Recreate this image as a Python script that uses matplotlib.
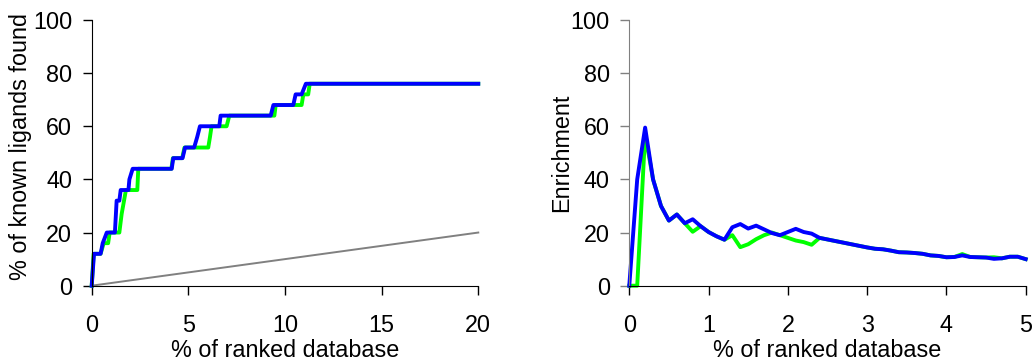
import matplotlib.pyplot as plt

plt.rcParams['font.family'] = ['Liberation Sans', 'DejaVu Sans']

# Left panel: % of known ligands found vs % of ranked database
blue_db = [0, 0.12, 0.46, 0.57, 0.78, 1.2, 1.29, 1.43, 1.5, 1.9, 1.95, 2.12,
           4.14, 4.22, 4.7, 4.83, 5.3, 5.46, 5.6, 6.6, 6.67, 9.26, 9.4,
           10.43, 10.55, 10.86, 11.08, 20]
blue_found = [0, 12, 12, 16, 20, 20, 32, 32, 36, 36, 40, 44,
              44, 48, 48, 52, 52, 56, 60, 60, 64, 64, 68,
              68, 72, 72, 76, 76]

green_db = [0, 0.1, 0.46, 0.62, 0.85, 0.93, 1.43, 1.55, 1.77, 2.36, 2.41,
            4.12, 4.2, 4.68, 4.8, 6.03, 6.12, 6.2, 6.98, 7.12, 9.45, 9.52,
            10.86, 10.95, 11.2, 11.28, 20]
green_found = [0, 12, 12, 16, 16, 20, 20, 27, 36, 36, 44,
               44, 48, 48, 52, 52, 56, 60, 60, 64, 64, 68,
               68, 72, 72, 76, 76]

random_db = [0, 20]
random_found = [0, 20]

# Right panel: enrichment vs % of ranked database
enr_db = [0.0, 0.1, 0.2, 0.3, 0.4, 0.5, 0.6, 0.7, 0.8, 0.9,
          1.0, 1.1, 1.2, 1.3, 1.4, 1.5, 1.6, 1.7, 1.8, 1.9,
          2.0, 2.1, 2.2, 2.3, 2.4, 2.5, 2.6, 2.7, 2.8, 2.9,
          3.0, 3.1, 3.2, 3.3, 3.4, 3.5, 3.6, 3.7, 3.8, 3.9,
          4.0, 4.1, 4.2, 4.3, 4.4, 4.5, 4.6, 4.7, 4.8, 4.9, 5.0]
blue_enr = [0, 40, 59.5, 40, 30, 24.5, 26.8, 23.5, 25, 22.4,
            20.2, 18.6, 17.3, 22, 23.2, 21.5, 22.6, 21.2, 19.8, 19,
            20.2, 21.4, 20.2, 19.6, 18.0, 17.4, 16.8, 16.2, 15.6, 15.0,
            14.4, 13.9, 13.7, 13.2, 12.6, 12.5, 12.3, 12.0, 11.4, 11.2,
            10.7, 10.8, 11.4, 10.8, 10.7, 10.6, 10.1, 10.3, 10.9, 10.9, 10.0]
green_enr = [0, 0, 57, 40, 30, 24.5, 26.8, 23.5, 20.3, 22.4,
             20.2, 18.6, 17.3, 19, 14.5, 15.6, 17.5, 19, 20, 19,
             18, 17, 16.4, 15.4, 18.0, 17.4, 16.8, 16.2, 15.6, 15.0,
             14.4, 13.9, 13.7, 13.2, 12.6, 12.5, 12.3, 12.0, 11.4, 11.2,
             10.7, 10.8, 11.9, 10.8, 10.7, 10.6, 10.7, 10.3, 10.9, 10.9, 10.0]

FS = 16.8


def style_axes(ax, xmax, xstep, spine_col):
    ax.set_xlim(0, xmax)
    ax.set_ylim(0, 100)
    ax.set_xticks(range(0, xmax + 1, xstep))
    ax.set_yticks(range(0, 101, 20))
    for s in ['top', 'right']:
        ax.spines[s].set_visible(False)
    ax.spines['left'].set_color(spine_col)
    ax.spines['bottom'].set_color('black')
    ax.tick_params(axis='x', direction='out', length=6.5, width=1,
                   labelsize=FS, pad=14)
    ax.tick_params(axis='y', direction='out', length=6.5, width=1,
                   labelsize=FS, pad=7.5, color=spine_col)
    ax.set_xlabel('% of ranked database', fontsize=FS, labelpad=1)


fig = plt.figure(figsize=(10.35, 3.62), dpi=100)

ax1 = fig.add_axes([0.0886, 0.2108, 0.3735, 0.734])
ax1.plot(random_db, random_found, color='#808080', lw=1.4, clip_on=False)
ax1.plot(green_db, green_found, color='#00FF00', lw=2.8, clip_on=False)
ax1.plot(blue_db, blue_found, color='#0000FF', lw=2.8, clip_on=False)
style_axes(ax1, 20, 5, 'black')
ax1.set_ylabel('% of known ligands found', fontsize=FS, labelpad=1)
ax1.yaxis.set_label_coords(-0.155, 0.522)

ax2 = fig.add_axes([0.608, 0.2108, 0.383, 0.734])
ax2.plot(enr_db, green_enr, color='#00FF00', lw=2.8, clip_on=False)
ax2.plot(enr_db, blue_enr, color='#0000FF', lw=2.8, clip_on=False)
style_axes(ax2, 5, 1, '#808080')
ax2.set_ylabel('Enrichment', fontsize=FS, labelpad=-2)

plt.savefig('out.png', dpi=100)
